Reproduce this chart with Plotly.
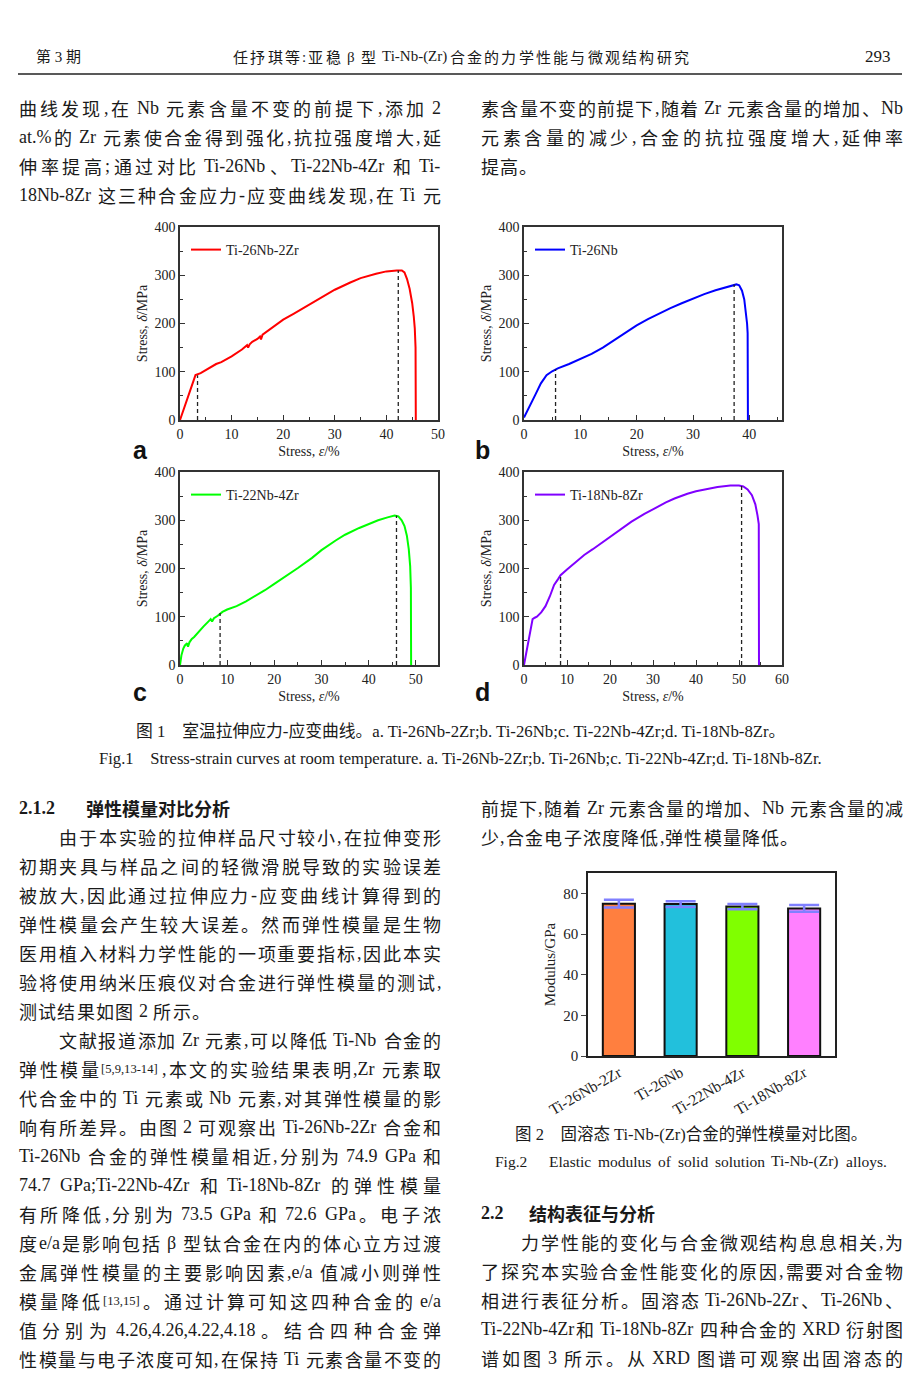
import plotly.graph_objects as go

W, H = 920, 1392

# ---------------- Data: stress-strain curves ----------------
a_name = "Ti-26Nb-2Zr"
a_strain = [0, 1, 2, 3.0, 4, 5, 6, 7, 8, 10, 12, 13, 13.2, 13.5, 14, 15, 15.5, 15.7, 16, 18, 20, 22, 25, 28, 30, 33, 35, 38, 40, 42, 43, 43.5, 44, 44.5, 45, 45.3, 45.5, 45.65, 45.7]
a_stress = [0, 30, 62, 93, 97, 103, 110, 116, 120, 132, 146, 155, 150, 157, 162, 168, 173, 167, 177, 192, 208, 220, 239, 258, 270, 285, 294, 303, 308, 310, 310, 306, 292, 272, 242, 215, 190, 150, 0]
a_marks_x = [3.4, 42.3]
a_marks_y = [93, 310]

b_name = "Ti-26Nb"
b_strain = [0, 1, 2, 3, 4, 5, 5.5, 6, 8, 10, 12, 14, 16, 18, 20, 22, 24, 26, 28, 30, 32, 34, 36, 37, 37.7, 38.2, 38.7, 39.1, 39.4, 39.6, 39.7, 39.75]
b_stress = [5, 27, 52, 76, 93, 101, 104, 107, 116, 126, 137, 150, 165, 180, 196, 209, 221, 232, 242, 252, 261, 269, 276, 279, 281, 279, 268, 250, 225, 200, 180, 0]
b_marks_x = [5.6, 37.3]
b_marks_y = [105, 281]

c_name = "Ti-22Nb-4Zr"
c_strain = [0, 0.3, 0.7, 1.0, 1.5, 1.7, 2.0, 2.5, 3, 4, 5, 6, 6.5, 6.8, 7.2, 8, 8.5, 9, 10, 12, 14, 16, 18, 20, 22, 25, 28, 30, 33, 35, 38, 40, 42, 44, 45.5, 46.3, 47, 47.6, 48.1, 48.5, 48.8, 48.95, 49.0]
c_stress = [0, 20, 34, 40, 45, 38, 47, 54, 58, 70, 80, 90, 95, 90, 97, 102, 107, 110, 115, 122, 132, 143, 155, 168, 181, 201, 222, 238, 258, 270, 284, 292, 300, 306, 310, 308, 300, 288, 268, 240, 205, 160, 0]
c_marks_x = [8.5, 45.9]
c_marks_y = [108, 310]

d_name = "Ti-18Nb-8Zr"
d_strain = [0, 0.5, 1, 1.5, 2, 2.5, 3, 4, 5, 6, 7, 8, 8.5, 10, 12, 14, 16, 18, 20, 22, 25, 28, 30, 33, 35, 38, 40, 43, 45, 48, 50, 51, 52, 53, 53.8, 54.3, 54.6, 54.65]
d_stress = [0, 25, 50, 75, 95, 98, 100, 109, 122, 142, 166, 179, 186, 198, 214, 228, 240, 253, 266, 279, 297, 313, 323, 337, 345, 355, 360, 366, 369, 372, 372, 370, 364, 352, 333, 310, 292, 0]
d_marks_x = [8.5, 50.6]
d_marks_y = [187, 372]

line_colors = ["#FF0000", "#0000FF", "#00FF00", "#8000FF"]

# ---------------- Data: elastic modulus ----------------
alloys = ["Ti-26Nb-2Zr", "Ti-26Nb", "Ti-22Nb-4Zr", "Ti-18Nb-8Zr"]
modulus = [74.9, 74.7, 73.5, 72.6]
modulus_err = [1.9, 1.4, 1.3, 1.7]
bar_colors = ["#FF7F3F", "#22C0DC", "#80FF00", "#FF80FF"]

# ---------------- Page layout helpers ----------------
def px(x):
    return x / W

def py(y):
    return 1 - y / H

SERIF = "Liberation Serif, Noto Sans CJK SC"
CJK = "Noto Sans CJK SC, Liberation Serif"
TXT = "#1a1a1a"

fig = go.Figure()

panels = [
    dict(name=a_name, sx=a_strain, sy=a_stress, mx=a_marks_x, my=a_marks_y, col=line_colors[0],
         xd=(180, 438), yd=(227, 420), xr=[0, 50], letter="a", lx=140, ly=450, leg=(186, 250)),
    dict(name=b_name, sx=b_strain, sy=b_stress, mx=b_marks_x, my=b_marks_y, col=line_colors[1],
         xd=(524, 782), yd=(227, 420), xr=[0, 45.8], letter="b", lx=482, ly=450, leg=(530, 250)),
    dict(name=c_name, sx=c_strain, sy=c_stress, mx=c_marks_x, my=c_marks_y, col=line_colors[2],
         xd=(180, 438), yd=(472, 665), xr=[0, 54.7], letter="c", lx=140, ly=692, leg=(186, 495)),
    dict(name=d_name, sx=d_strain, sy=d_stress, mx=d_marks_x, my=d_marks_y, col=line_colors[3],
         xd=(524, 782), yd=(472, 665), xr=[0, 60], letter="d", lx=482, ly=692, leg=(530, 495)),
]

annotations = []
layout_axes = {}

for i, p in enumerate(panels):
    n = i + 1
    xa = "x" if n == 1 else f"x{n}"
    ya = "y" if n == 1 else f"y{n}"
    leg = "legend" if n == 1 else f"legend{n}"
    fig.add_trace(go.Scatter(x=p["sx"], y=p["sy"], mode="lines", name=p["name"],
                             line=dict(color=p["col"], width=2), xaxis=xa, yaxis=ya,
                             legend=leg, showlegend=True))
    dx, dy = [], []
    for mx, my in zip(p["mx"], p["my"]):
        dx += [mx, mx, None]
        dy += [0, my, None]
    fig.add_trace(go.Scatter(x=dx, y=dy, mode="lines", line=dict(color="#222", width=1.3, dash="4px,3px"),
                             xaxis=xa, yaxis=ya, showlegend=False, hoverinfo="skip"))
    xkey = "xaxis" if n == 1 else f"xaxis{n}"
    ykey = "yaxis" if n == 1 else f"yaxis{n}"
    common = dict(showline=True, linecolor="#333", linewidth=1.5, mirror=True, ticks="inside",
                  ticklen=5, tickwidth=1.2, tickcolor="#333", showgrid=False, zeroline=False,
                  automargin=False, tickfont=dict(family=SERIF, size=14, color="#222"))
    layout_axes[xkey] = dict(domain=[px(p["xd"][0]), px(p["xd"][1])], anchor=ya, range=p["xr"],
                             dtick=10, minor=dict(ticks="inside", dtick=5, ticklen=3, tickcolor="#333"),
                             title=dict(text="Stress, <i>ε</i>/%", font=dict(family=SERIF, size=14, color="#222"),
                                        standoff=6), **common)
    layout_axes[ykey] = dict(domain=[py(p["yd"][1]), py(p["yd"][0])], anchor=xa, range=[0, 400],
                             dtick=100, minor=dict(ticks="inside", dtick=50, ticklen=3, tickcolor="#333"),
                             title=dict(text="Stress, <i>δ</i>/MPa", font=dict(family=SERIF, size=14, color="#222"),
                                        standoff=4), **common)
    layout_axes[leg] = dict(x=px(p["leg"][0]), y=py(p["leg"][1]), xanchor="left", yanchor="middle",
                            bgcolor="rgba(0,0,0,0)", borderwidth=0,
                            font=dict(family=SERIF, size=14, color="#222"), itemwidth=30)
    annotations.append(dict(text=f"<b>{p['letter']}</b>", x=px(p["lx"]), y=py(p["ly"]), xref="paper", yref="paper",
                            showarrow=False, xanchor="center", yanchor="middle",
                            font=dict(family="Liberation Sans", size=25, color="#111")))

# bar chart
fig.add_trace(go.Bar(x=alloys, y=modulus, marker=dict(color=bar_colors, line=dict(color="#111", width=2)),
                     width=0.52, xaxis="x5", yaxis="y5", showlegend=False,
                     error_y=dict(type="data", array=modulus_err, color="#8080FF", thickness=2.5, width=15)))
layout_axes["xaxis5"] = dict(domain=[px(588), px(835)], anchor="y5", range=[-0.5, 3.5], showline=True,
                             linecolor="#222", linewidth=1.5, mirror=True, ticks="", tickangle=-30,
                             automargin=False,
                             tickfont=dict(family=SERIF, size=15.5, color="#222"), showgrid=False)
layout_axes["yaxis5"] = dict(domain=[py(1056), py(873)], anchor="x5", range=[0, 90], dtick=20,
                             showline=True, linecolor="#222", linewidth=1.5, mirror=True, ticks="outside",
                             ticklen=5, tickwidth=1.2, showgrid=False, zeroline=False, automargin=False,
                             tickfont=dict(family=SERIF, size=15, color="#222"),
                             title=dict(text="Modulus/GPa", font=dict(family=SERIF, size=15, color="#222"),
                                        standoff=4))

# ---------------- Page text (justified token placement) ----------------
TW = {' ': 250, '!': 333, '%': 833, '(': 333, ')': 333, ',': 250, '-': 333, '.': 250, '/': 278, ':': 278,
      ';': 278, '[': 333, ']': 333, 'β': 520,
      'A': 722, 'B': 667, 'C': 667, 'D': 722, 'E': 611, 'F': 556, 'G': 722, 'H': 722, 'I': 333, 'J': 389,
      'K': 722, 'L': 611, 'M': 889, 'N': 722, 'O': 722, 'P': 556, 'Q': 722, 'R': 667, 'S': 556, 'T': 611,
      'U': 722, 'V': 722, 'W': 944, 'X': 722, 'Y': 722, 'Z': 611,
      'a': 444, 'b': 500, 'c': 444, 'd': 500, 'e': 444, 'f': 333, 'g': 500, 'h': 500, 'i': 278, 'j': 278,
      'k': 500, 'l': 278, 'm': 778, 'n': 500, 'o': 500, 'p': 500, 'q': 500, 'r': 333, 's': 389, 't': 278,
      'u': 500, 'v': 500, 'w': 722, 'x': 500, 'y': 500, 'z': 444}


def latin_w(s):
    return sum(TW.get(c, 500) for c in s) / 1000.0


def is_cjk(ch):
    return ord(ch) >= 0x2E80


def tokenize(line, fs):
    toks = []
    i = 0
    sp = False
    while i < len(line):
        if line.startswith("<sup>", i):
            j = line.index("</sup>", i)
            content = line[i + 5:j]
            toks.append(dict(text=f"<sup>{content}</sup>", w=latin_w(content) * fs * 0.72, cjk=False, sp=sp))
            sp = False
            i = j + 6
            continue
        ch = line[i]
        if ch == ' ':
            sp = True
            i += 1
            continue
        if is_cjk(ch):
            toks.append(dict(text=ch, w=fs, cjk=True, sp=sp))
            sp = False
            i += 1
            continue
        j = i
        while j < len(line) and line[j] != ' ' and not is_cjk(line[j]) and not line.startswith("<sup>", j):
            j += 1
        run = line[i:j]
        toks.append(dict(text=run, w=latin_w(run) * fs, cjk=False, sp=sp))
        sp = False
        i = j
    return toks


def place_line(line, x0, y, x1=None, fs=18, bold=False, natural_gap=1.2):
    toks = tokenize(line, fs)
    total = sum(t["w"] for t in toks) + sum(0.25 * fs for t in toks[1:] if t["sp"])
    ngaps = max(len(toks) - 1, 1)
    gap = (x1 - x0 - total) / ngaps if x1 is not None else natural_gap
    x = x0
    for k, t in enumerate(toks):
        if k > 0:
            x += gap + (0.25 * fs if t["sp"] else 0)
        if t["text"].strip():
            txt = f"<b>{t['text']}</b>" if bold else t["text"]
            annotations.append(dict(text=txt, x=px(x), y=py(y), xref="paper", yref="paper", showarrow=False,
                                    xanchor="left", yanchor="middle", borderpad=0,
                                    font=dict(family=CJK if t["cjk"] else SERIF, size=fs, color=TXT)))
        x += t["w"]


def add_text(txt, x, y, size=18, family=SERIF, anchor="left", bold=False, color=TXT):
    if bold:
        txt = f"<b>{txt}</b>"
    annotations.append(dict(text=txt, x=px(x), y=py(y), xref="paper", yref="paper", showarrow=False,
                            xanchor=anchor, yanchor="middle", borderpad=0,
                            font=dict(family=family, size=size, color=color)))

# header
add_text("第 3 期", 35, 57, size=15)
place_line("任抒琪等:亚稳 β 型 Ti-Nb-(Zr)合金的力学性能与微观结构研究", 232, 57, 688, fs=15)
add_text("293", 892, 57, size=17, anchor="right")

FS = 18
left_top = [
    "曲线发现,在 Nb 元素含量不变的前提下,添加 2",
    "at.%的 Zr 元素使合金得到强化,抗拉强度增大,延",
    "伸率提高;通过对比 Ti-26Nb、Ti-22Nb-4Zr 和 Ti-",
    "18Nb-8Zr 这三种合金应力-应变曲线发现,在 Ti 元",
]
for k, t in enumerate(left_top):
    place_line(t, 18, 108 + 29 * k, 440, fs=FS)

right_top = [
    ("素含量不变的前提下,随着 Zr 元素含量的增加、Nb", True),
    ("元素含量的减少,合金的抗拉强度增大,延伸率", True),
    ("提高。", False),
]
for k, (t, full) in enumerate(right_top):
    place_line(t, 480, 108 + 29 * k, 902 if full else None, fs=FS)

add_text("图 1　室温拉伸应力-应变曲线。a. Ti-26Nb-2Zr;b. Ti-26Nb;c. Ti-22Nb-4Zr;d. Ti-18Nb-8Zr。",
         460, 731, size=16.8, anchor="center")
add_text("Fig.1　Stress-strain curves at room temperature. a. Ti-26Nb-2Zr;b. Ti-26Nb;c. Ti-22Nb-4Zr;d. Ti-18Nb-8Zr.",
         460, 758, size=16.6, anchor="center")

add_text("2.1.2", 18, 808, size=18, family=SERIF, bold=True)
add_text("弹性模量对比分析", 85, 808, size=18, family=CJK, bold=True)
left_body = [
    ("由于本实验的拉伸样品尺寸较小,在拉伸变形", 58, True),
    ("初期夹具与样品之间的轻微滑脱导致的实验误差", 18, True),
    ("被放大,因此通过拉伸应力-应变曲线计算得到的", 18, True),
    ("弹性模量会产生较大误差。然而弹性模量是生物", 18, True),
    ("医用植入材料力学性能的一项重要指标,因此本实", 18, True),
    ("验将使用纳米压痕仪对合金进行弹性模量的测试,", 18, True),
    ("测试结果如图 2 所示。", 18, False),
    ("文献报道添加 Zr 元素,可以降低 Ti-Nb 合金的", 58, True),
    ("弹性模量<sup>[5,9,13-14]</sup>,本文的实验结果表明,Zr 元素取", 18, True),
    ("代合金中的 Ti 元素或 Nb 元素,对其弹性模量的影", 18, True),
    ("响有所差异。由图 2 可观察出 Ti-26Nb-2Zr 合金和", 18, True),
    ("Ti-26Nb 合金的弹性模量相近,分别为 74.9 GPa 和", 18, True),
    ("74.7 GPa;Ti-22Nb-4Zr 和 Ti-18Nb-8Zr 的弹性模量", 18, True),
    ("有所降低,分别为 73.5 GPa 和 72.6 GPa。电子浓", 18, True),
    ("度e/a是影响包括 β 型钛合金在内的体心立方过渡", 18, True),
    ("金属弹性模量的主要影响因素,e/a 值减小则弹性", 18, True),
    ("模量降低<sup>[13,15]</sup>。通过计算可知这四种合金的 e/a", 18, True),
    ("值分别为 4.26,4.26,4.22,4.18。结合四种合金弹", 18, True),
    ("性模量与电子浓度可知,在保持 Ti 元素含量不变的", 18, True),
]
for k, (t, x0, full) in enumerate(left_body):
    place_line(t, x0, 837 + 29 * k, 440 if full else None, fs=FS)

place_line("前提下,随着 Zr 元素含量的增加、Nb 元素含量的减", 480, 808, 902, fs=FS)
place_line("少,合金电子浓度降低,弹性模量降低。", 480, 837, None, fs=FS)

add_text("图 2　固溶态 Ti-Nb-(Zr)合金的弹性模量对比图。", 691, 1134, size=16.5, anchor="center")
place_line("Fig.2　Elastic modulus of solid solution Ti-Nb-(Zr) alloys.", 494, 1161, 886, fs=15.5)

add_text("2.2", 480, 1213, size=18, family=SERIF, bold=True)
add_text("结构表征与分析", 528, 1213, size=18, family=CJK, bold=True)
right_body = [
    ("力学性能的变化与合金微观结构息息相关,为", 520),
    ("了探究本实验合金性能变化的原因,需要对合金物", 480),
    ("相进行表征分析。固溶态 Ti-26Nb-2Zr、Ti-26Nb、", 480),
    ("Ti-22Nb-4Zr和 Ti-18Nb-8Zr 四种合金的 XRD 衍射图", 480),
    ("谱如图 3 所示。从 XRD 图谱可观察出固溶态的", 480),
]
for k, (t, x0) in enumerate(right_body):
    place_line(t, x0, 1242 + 29 * k, 902, fs=FS)

fig.update_layout(
    width=W, height=H, margin=dict(l=0, r=0, t=0, b=0, autoexpand=False),
    paper_bgcolor="white", plot_bgcolor="white",
    font=dict(family=SERIF, color="#222"),
    annotations=annotations,
    shapes=[dict(type="line", xref="paper", yref="paper", x0=px(18), x1=px(902), y0=py(74), y1=py(74),
                 line=dict(color="#222", width=1.5))],
    **layout_axes,
)

fig.write_html("out.html", config={"displayModeBar": False},
               post_script="document.body.style.margin='0';document.body.style.padding='0';")
